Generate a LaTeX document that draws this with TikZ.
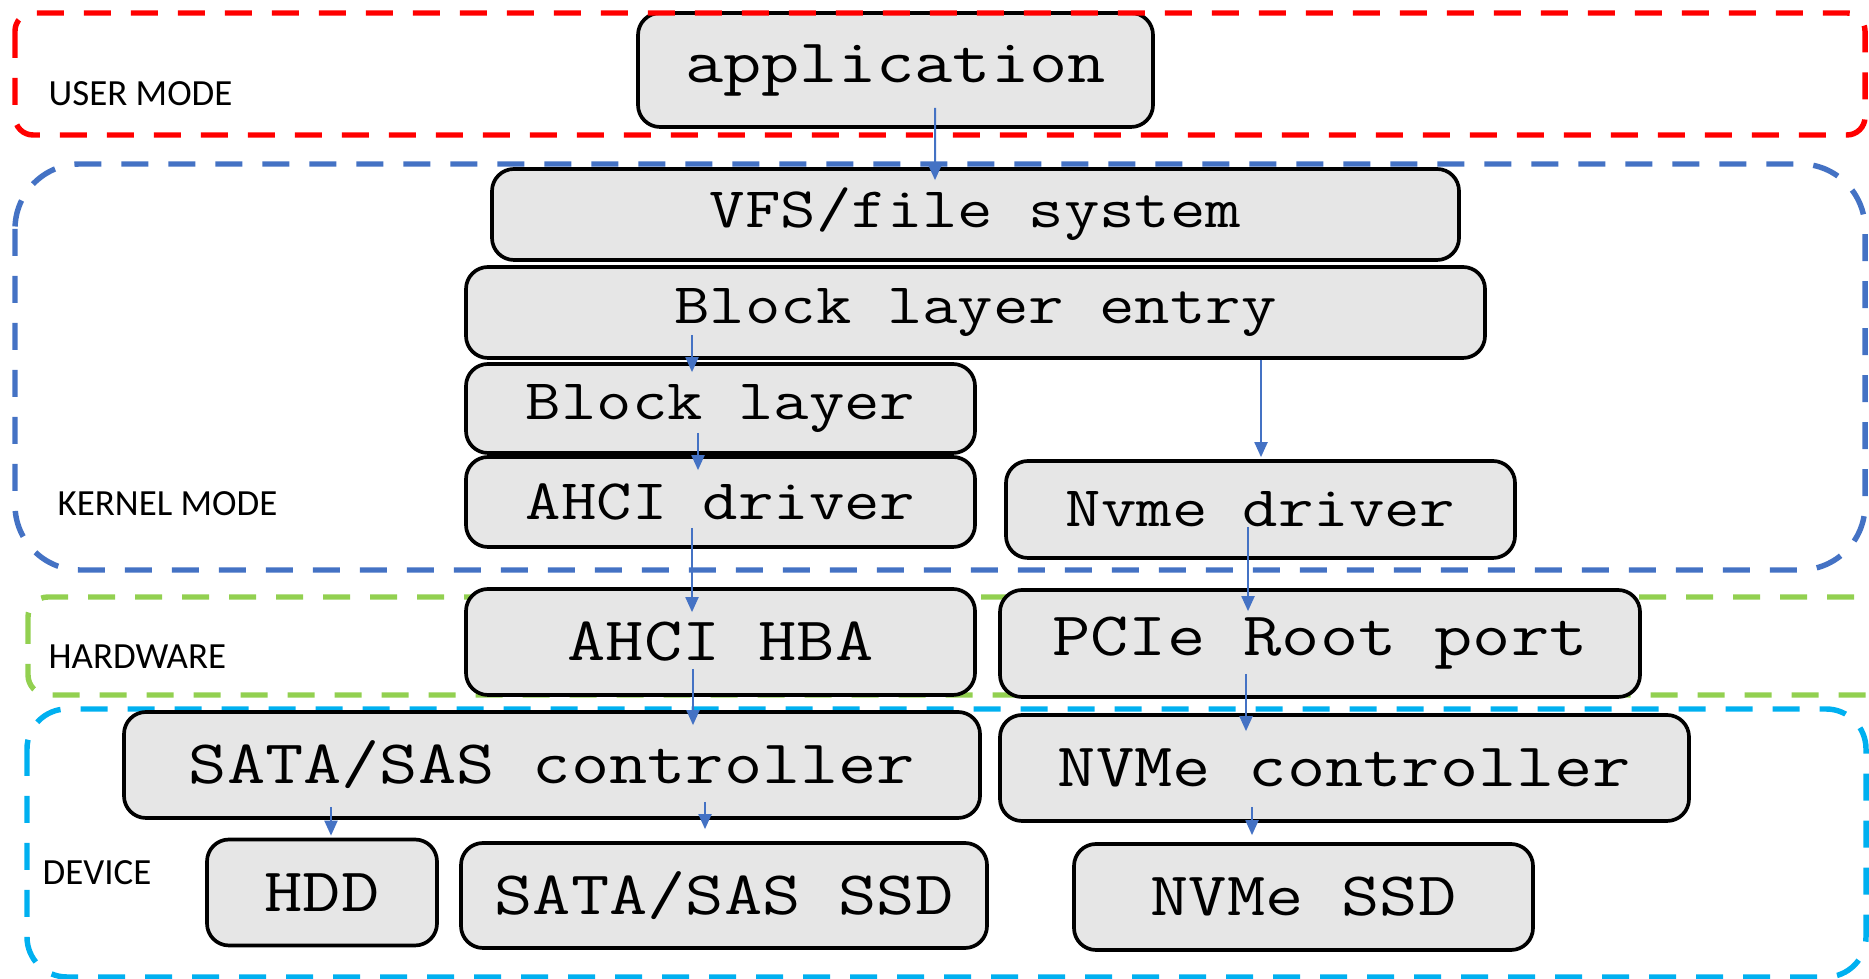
\documentclass[tikz,border=0pt]{standalone}
\usepackage{fontspec}
\newfontfamily\boxfont[FakeStretch=1.2]{Latin Modern Mono}
\newfontfamily\lblfont{Carlito}
\usetikzlibrary{arrows.meta,calc}
\definecolor{boxgray}{RGB}{230,230,230}
\definecolor{userred}{RGB}{255,0,0}
\definecolor{kernblue}{RGB}{68,114,196}
\definecolor{hwgreen}{RGB}{146,208,80}
\definecolor{devcyan}{RGB}{0,176,240}
\definecolor{arrblue}{RGB}{68,114,196}
\begin{document}
\begin{tikzpicture}[x=0.1mm,y=-0.1mm,
  box/.style={draw=black, line width=1.05pt, rounded corners=2.2mm, fill=boxgray,
    inner sep=0pt, align=center},
  bigbox/.style={box, font=\fontsize{17.6}{20}\selectfont\boxfont},
  smallbox/.style={box, font=\fontsize{16.3}{19}\selectfont\boxfont},
  region/.style={line width=1.55pt, dash pattern=on 2.7mm off 2mm},
  lbl/.style={anchor=base west, inner sep=0pt, font=\fontsize{10.5}{12}\selectfont\lblfont},
  arr/.style={draw=arrblue, line width=0.57pt, -{Triangle[width=1.3mm,length=1.5mm]}}
]
\clip (0,0) rectangle (1869,979);

% layer frames
\draw[region, draw=kernblue, rounded corners=6.5mm] (15,164) rectangle (1865,570);
\draw[region, draw=hwgreen, rounded corners=2mm] (28,597) rectangle (1900,695);
\draw[region, draw=devcyan, rounded corners=4mm] (27,709) rectangle (1866,977);

% layer labels
\node[lbl] (lkernel) at (57,516) {KERNEL MODE};
\node[lbl] (lhw) at (48,669) {HARDWARE};
\node[lbl] (ldev) at (42,885) {DEVICE};

% stack components
\node[bigbox, minimum width=51.5mm, minimum height=11.4mm] (app) at (895.5,70) {application};
\node[smallbox, minimum width=96.7mm, minimum height=9.1mm] (vfs) at (975.5,214.5) {VFS/file system};
\node[smallbox, minimum width=101.9mm, minimum height=9.1mm] (ble) at (975.5,312.5) {Block layer entry};
\node[smallbox, minimum width=50.9mm, minimum height=8.9mm] (bl) at (720.5,408.5) {Block layer};
\node[smallbox, minimum width=50.9mm, minimum height=9.0mm] (ahcid) at (720.5,502) {AHCI driver};
\node[smallbox, minimum width=50.9mm, minimum height=9.7mm] (nvmed) at (1260.5,509.5) {Nvme driver};
\node[bigbox, minimum width=50.9mm, minimum height=10.6mm] (hba) at (720.5,642) {AHCI HBA};
\node[bigbox, minimum width=64.0mm, minimum height=10.7mm] (pcie) at (1320,643.5) {PCIe Root port};
\node[bigbox, minimum width=85.6mm, minimum height=10.6mm] (satac) at (552,765) {SATA/SAS controller};
\node[bigbox, minimum width=68.9mm, minimum height=10.6mm] (nvmec) at (1344.5,768) {NVMe controller};
\node[bigbox, minimum width=23.0mm, minimum height=10.6mm] (hdd) at (322,892.5) {HDD};
\node[bigbox, minimum width=52.6mm, minimum height=10.5mm] (sssd) at (724,895.5) {SATA/SAS SSD};
\node[bigbox, minimum width=45.9mm, minimum height=10.6mm] (nssd) at (1303.5,897) {NVMe SSD};

% user mode frame and label
\draw[region, draw=userred, rounded corners=1.8mm] (15,13) rectangle (1865,135);
\node[lbl] (luser) at (48,106) {USER MODE};

% call path
\draw[arr] ($(app.south)+(39.5,-21)$) -- ($(vfs.north)+(-40.5,13)$);
\draw[arr] ($(ble.south)+(-283.5,-25)$) -- ($(bl.north)+(-28.5,10)$);
\draw[arr] ($(bl.south)+(-22.5,-22)$) -- ($(ahcid.north)+(-22.5,15)$);
\draw[arr] ($(ble.south)+(285.5,0)$) -- ($(nvmed.north)+(0.5,-2)$);
\draw[arr] ($(ahcid.south)+(-28.5,-21)$) -- ($(hba.north)+(-28.5,25)$);
\draw[arr] ($(nvmed.south)+(-12.5,-33)$) -- ($(pcie.north)+(-72,23)$);
\draw[arr] ($(hba.south)+(-27.5,-28)$) -- ($(satac.north)+(141,15)$);
\draw[arr] ($(pcie.south)+(-74,-25)$) -- ($(nvmec.north)+(-98.5,18)$);
\draw[arr] ($(satac.south)+(-221,-13)$) -- ($(hdd.north)+(9,-2)$);
\draw[arr] ($(satac.south)+(153,-18)$) -- ($(sssd.north)+(-19,-12)$);
\draw[arr] ($(nvmec.south)+(-92.5,-16)$) -- ($(nssd.north)+(-51.5,-7)$);
\end{tikzpicture}
\end{document}
